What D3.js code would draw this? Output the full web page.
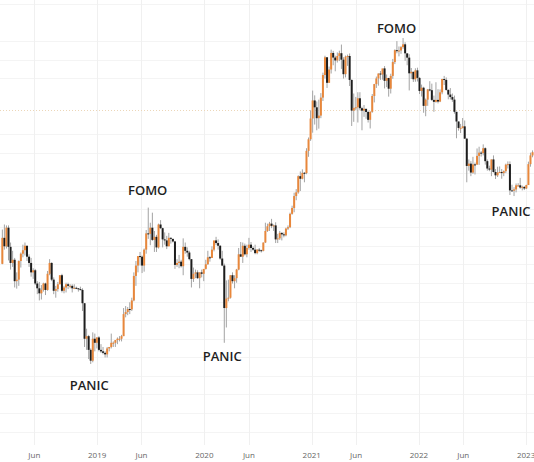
<!DOCTYPE html>
<html>
<head>
<meta charset="utf-8">
<script src="https://cdn.jsdelivr.net/npm/d3@7"></script>
<style>
  body { margin: 0; background: #fff; }
  svg { display: block; }
</style>
</head>
<body>
<script>

var svgWidth = 534
var svgHeight = 462
var plotBottom = 445

// weekly candles, first week starts Mon 12 Feb 2018
var firstWeek = new Date(2018, 1, 12)
var firstOpen = 8130

// [high, low, close] per week
var weeks2018 = [
  [11250, 8100, 10400], [11800, 9300, 9600], [11700, 9400, 11450], [11700, 8400, 9550],
  [9950, 7700, 8200], [9200, 7900, 8450], [8600, 6500, 6900], [7500, 6430, 7000],
  [8400, 6600, 8350], [9050, 7850, 8950], [9750, 8650, 9250], [9950, 8800, 9650],
  [9650, 8350, 8700], [8900, 7900, 8200], [8600, 7200, 7500], [7800, 7050, 7650],
  [7750, 6650, 6750], [6900, 6100, 6450], [6850, 5750, 6150], [6650, 5800, 6350],
  [6800, 6250, 6750], [6800, 6050, 6350], [7600, 6300, 7400], [8500, 7300, 8200],
  [8250, 6900, 7000], [7150, 6100, 6300], [6600, 5900, 6400], [6850, 6250, 6700],
  [7300, 6700, 7300], [7400, 6200, 6300], [6600, 6150, 6500], [6800, 6200, 6700],
  [6800, 6400, 6600], [6700, 6450, 6600], [6700, 6200, 6450], [6700, 6400, 6480],
  [6550, 6400, 6450], [6450, 6250, 6400], [6550, 6330, 6350], [6450, 5200, 5600],
  [5600, 3700, 4000], [4400, 3600, 4100], [4150, 3300, 3600], [3650, 3150, 3250],
  [4250, 3200, 4000], [4200, 3550, 3850], [4050, 3650, 4050]
]

var weeks2019 = [
  [4100, 3550, 3600], [3800, 3500, 3550], [3700, 3450, 3500], [3550, 3350, 3450],
  [3700, 3350, 3650], [3700, 3550, 3700], [4200, 3650, 3850], [3900, 3700, 3850],
  [3950, 3700, 3950], [4050, 3800, 4000], [4100, 3900, 4000], [4150, 3900, 4100],
  [5350, 4100, 5050], [5450, 4900, 5150], [5400, 5000, 5300], [5650, 5050, 5280],
  [5900, 5200, 5750], [7500, 5700, 7250], [8350, 6600, 8000], [8150, 7500, 8750],
  [9100, 8000, 8700], [8800, 7450, 8000], [9400, 7550, 9300], [11200, 8950, 10850],
  [13850, 10300, 10800], [12000, 9700, 11450], [13200, 10100, 10200], [11100, 9100, 10500],
  [10700, 9100, 9500], [11900, 9400, 11800], [12300, 11300, 11400], [11450, 9500, 10250],
  [10950, 9750, 10150], [10600, 9350, 9600], [10900, 9600, 10400], [10450, 9850, 10300],
  [10300, 9950, 10050], [10100, 7750, 8050], [8500, 7900, 8200], [8850, 7800, 8300],
  [8450, 7850, 7950], [10350, 7300, 9550], [9950, 8950, 9200], [9500, 8700, 9050],
  [9200, 8400, 8500], [8500, 6500, 7050], [7850, 6850, 7400], [7700, 7100, 7500],
  [7650, 7050, 7100], [7500, 6450, 7500], [7700, 7150, 7400], [7650, 6900, 7750]
]

var weeks2020 = [
  [8450, 7700, 8100], [9200, 8050, 8650], [8750, 8300, 8600], [9600, 8600, 9300],
  [10100, 9150, 10150], [10500, 9700, 9900], [10250, 9300, 9650], [9700, 8450, 8550],
  [9200, 7950, 8000], [8150, 3850, 5350], [6950, 4450, 5850], [7000, 5700, 5900],
  [7300, 5850, 7300], [7500, 6750, 6900], [7300, 6450, 7100], [7750, 6800, 7700],
  [9450, 7650, 8900], [10000, 8700, 8700], [9950, 8200, 9650], [9850, 8800, 8900],
  [9750, 8650, 9450], [10400, 9300, 9750], [10000, 9100, 9450], [9600, 9200, 9300],
  [9750, 8900, 9000], [9350, 8900, 9300], [9450, 9100, 9250], [9300, 9050, 9200],
  [9950, 9150, 9950], [12000, 9900, 11100], [11900, 11000, 11600], [12100, 11100, 11900],
  [12450, 11400, 11650], [11800, 11100, 11700], [12050, 9900, 10250], [10800, 9900, 10350],
  [11100, 10200, 10900], [10950, 10150, 10750], [10950, 10450, 10650], [11450, 10550, 11350],
  [11700, 11200, 11500], [13200, 11400, 13050], [14100, 12950, 13800], [15950, 13250, 15450],
  [16500, 14850, 16000], [18800, 15800, 18650], [19500, 16200, 18200], [19900, 18100, 19250],
  [19400, 17600, 19200], [24300, 19000, 23700], [26900, 22400, 26450], [34800, 26050, 32200]
]

var weeks2021 = [
  [41950, 28150, 38200], [40100, 30400, 35800], [37850, 28800, 32300], [38500, 29250, 33100],
  [40950, 32300, 39250], [49700, 38000, 48600], [58350, 47000, 57500], [57500, 43000, 45150],
  [52650, 45100, 51200], [61800, 49300, 59900], [61100, 53300, 57350], [58400, 50350, 55800],
  [60200, 54700, 58200], [61200, 55450, 59750], [64850, 51500, 56200], [57500, 47000, 49000],
  [58450, 47500, 57800], [59000, 53000, 58200], [59600, 43800, 46400], [46600, 30000, 34700],
  [40800, 31200, 35600], [39500, 34800, 35800], [41300, 31000, 39000], [41300, 34800, 35500],
  [36000, 28800, 34700], [36600, 32700, 35300], [35100, 32100, 34250], [34700, 31000, 31800],
  [34500, 29300, 34300], [40600, 34000, 39850], [44700, 37500, 44600], [47900, 43000, 47050],
  [49350, 43950, 49300], [50500, 46400, 48850], [51000, 46500, 51750], [52900, 42800, 46000],
  [48850, 43350, 47250], [47350, 39600, 42700], [49200, 40800, 48200], [56600, 46900, 54950],
  [62000, 53900, 61500], [67000, 59700, 61100], [63700, 58000, 61300], [64000, 59400, 63300],
  [69000, 62300, 65000], [66300, 55600, 59700], [59300, 53300, 57300], [59200, 42000, 49400],
  [51950, 46800, 50100], [50150, 45500, 46700], [51800, 45600, 50800], [52100, 45700, 47300]
]

var weeks2022 = [
  [47600, 40600, 41800], [44400, 39650, 43100], [43500, 34000, 36300], [38900, 32900, 38500],
  [42600, 36300, 42400], [45850, 41650, 42100], [44800, 38000, 38400], [40000, 34300, 37700],
  [45400, 37400, 38400], [42500, 37150, 37800], [42400, 37600, 41250], [46900, 40500, 46800],
  [48200, 44200, 46400], [47500, 41900, 42200], [42450, 38600, 40400], [42950, 38550, 39450],
  [40800, 37700, 38500], [40000, 33700, 34300], [34300, 26700, 31300], [31300, 28700, 29450],
  [30600, 28050, 29450], [32350, 29300, 29900], [31600, 26600, 26600], [26800, 17600, 20550],
  [21850, 19650, 21000], [21500, 18650, 19300], [22400, 19050, 20850], [21200, 18950, 20800],
  [24250, 20800, 22600], [24650, 20750, 23300], [23650, 22450, 23200], [25200, 22700, 24300],
  [24500, 20800, 21500], [21850, 19650, 20050], [20600, 19550, 19850], [21850, 18650, 21850],
  [22700, 19300, 19400], [19950, 18150, 18800], [20400, 18500, 19300], [20450, 19250, 19400],
  [19950, 18200, 19200], [19700, 18650, 19550], [21000, 19200, 20800], [21450, 20050, 20900],
  [21450, 15600, 16300], [17200, 16300, 16250], [16800, 15450, 16450], [17400, 16000, 17100],
  [17450, 16850, 17100], [18350, 16550, 16750], [17050, 16300, 16850], [16950, 16350, 16600]
]

var weeks2023 = [
  [17200, 16500, 17150], [21400, 17150, 20900], [23300, 20400, 22700], [23800, 22300, 23400]
]

var xTicks = [
  {date: new Date(2018, 5, 1), label: 'Jun'},
  {date: new Date(2019, 0, 1), label: '2019'},
  {date: new Date(2019, 5, 1), label: 'Jun'},
  {date: new Date(2020, 0, 1), label: '2020'},
  {date: new Date(2020, 5, 1), label: 'Jun'},
  {date: new Date(2021, 0, 1), label: '2021'},
  {date: new Date(2021, 5, 1), label: 'Jun'},
  {date: new Date(2022, 0, 1), label: '2022'},
  {date: new Date(2022, 5, 1), label: 'Jun'},
  {date: new Date(2023, 0, 1), label: '2023'}
]

var gridPrices = [95300, 67000, 56100, 47100, 27700, 23300, 19300, 16200, 13700, 11500,
                  9650, 8090, 6780, 5690, 4770, 4000, 3350, 2810, 2360, 1980, 1660]

var levelPrice = 34900

var notes = [
  {text: 'FOMO', date: new Date(2019, 5, 22), price: 15600},
  {text: 'FOMO', date: new Date(2021, 9, 17), price: 72300},
  {text: 'PANIC', date: new Date(2018, 11, 5), price: 2460},
  {text: 'PANIC', date: new Date(2020, 2, 2), price: 3240},
  {text: 'PANIC', date: new Date(2022, 10, 11), price: 12800}
]

// build candles
var rows = weeks2018.concat(weeks2019, weeks2020, weeks2021, weeks2022, weeks2023)
var candles = []
var prevClose = firstOpen
rows.forEach(function(r, i) {
  candles.push({
    date: d3.timeWeek.offset(firstWeek, i),
    open: prevClose, high: r[0], low: r[1], close: r[2]
  })
  prevClose = r[2]
})

var xScale = d3.scaleTime()
    .domain([new Date(2018, 1, 4), new Date(2023, 0, 28)])
    .range([0, svgWidth])

var yScale = d3.scaleLog()
    .domain([1245, 98900])
    .range([svgHeight, 0])

var svg = d3.select('body').append('svg')
    .attr('width', svgWidth)
    .attr('height', svgHeight)

svg.append('g')
    .selectAll('line')
    .data(gridPrices)
    .enter().append('line')
      .attr('x1', 0)
      .attr('x2', svgWidth)
      .attr('y1', function(d) { return Math.round(yScale(d)) + 0.5 })
      .attr('y2', function(d) { return Math.round(yScale(d)) + 0.5 })
      .attr('stroke', '#f4f4f4')

svg.append('g')
    .selectAll('line')
    .data(xTicks)
    .enter().append('line')
      .attr('x1', function(d) { return Math.round(xScale(d.date)) + 0.5 })
      .attr('x2', function(d) { return Math.round(xScale(d.date)) + 0.5 })
      .attr('y1', 0)
      .attr('y2', plotBottom)
      .attr('stroke', '#f0f0f0')

svg.append('line')
    .attr('x1', 0)
    .attr('x2', svgWidth)
    .attr('y1', Math.round(yScale(levelPrice)) + 0.5)
    .attr('y2', Math.round(yScale(levelPrice)) + 0.5)
    .attr('stroke', '#ecd6b8')
    .attr('stroke-dasharray', '1,2')

var bodyW = 2

var g = svg.append('g')

g.selectAll('.wick')
    .data(candles)
    .enter().append('line')
      .attr('class', 'wick')
      .attr('x1', function(d) { return xScale(d.date) })
      .attr('x2', function(d) { return xScale(d.date) })
      .attr('y1', function(d) { return yScale(d.high) })
      .attr('y2', function(d) { return yScale(d.low) })
      .attr('stroke', '#a3a3a3')
      .attr('stroke-width', 1)

g.selectAll('.body')
    .data(candles)
    .enter().append('rect')
      .attr('class', 'body')
      .attr('x', function(d) { return xScale(d.date) - bodyW / 2 })
      .attr('width', bodyW)
      .attr('y', function(d) { return yScale(Math.max(d.open, d.close)) })
      .attr('height', function(d) {
        return Math.max(1, Math.abs(yScale(d.open) - yScale(d.close)))
      })
      .attr('fill', function(d) {
        return d.close >= d.open ? '#e8873b' : '#1d1d1d'
      })

svg.append('g')
    .selectAll('text')
    .data(xTicks)
    .enter().append('text')
      .attr('x', function(d) { return xScale(d.date) })
      .attr('y', 458)
      .attr('text-anchor', 'middle')
      .attr('font-family', 'Open Sans, sans-serif')
      .attr('font-size', 8)
      .attr('fill', '#666')
      .text(function(d) { return d.label })

svg.append('g')
    .selectAll('text')
    .data(notes)
    .enter().append('text')
      .attr('x', function(d) { return xScale(d.date) })
      .attr('y', function(d) { return yScale(d.price) })
      .attr('text-anchor', 'middle')
      .attr('font-family', 'Open Sans, sans-serif')
      .attr('font-weight', 600)
      .attr('font-size', 13)
      .attr('fill', '#1f1f1f')
      .text(function(d) { return d.text })

</script>
</body>
</html>
